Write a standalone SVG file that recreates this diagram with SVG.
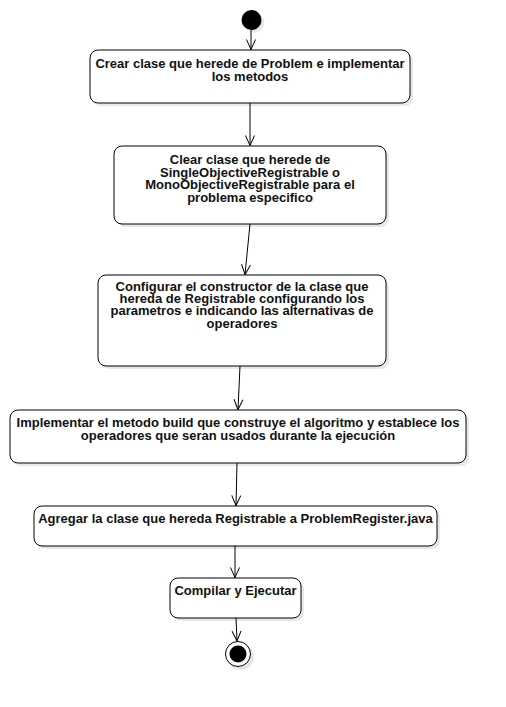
<svg xmlns="http://www.w3.org/2000/svg" width="506" height="707" viewBox="0 0 506 707">
<style>
.box{fill:#fff;stroke:#000;stroke-width:1}
.sh{fill:#000;opacity:0.09}
.lbl{font-family:"Liberation Sans",Arial,sans-serif;font-size:13px;font-weight:bold;fill:#111;text-anchor:middle}
.edge{fill:none;stroke:#000;stroke-width:1}
</style>
<defs>
<marker id="arr" markerUnits="userSpaceOnUse" viewBox="-11 -6 12 12" refX="0" refY="0" markerWidth="12" markerHeight="12" orient="auto">
<path d="M-10,-4.5 L0,0 L-10,4.5" fill="none" stroke="#000" stroke-width="1"/>
</marker>
</defs>
<rect width="506" height="707" fill="#fff"/>
<g id="start">
<circle class="sh" cx="254.5" cy="22.5" r="10"/>
<circle cx="251.5" cy="20" r="10" fill="#000"/>
</g>
<g id="n1">
<rect class="sh" x="93" y="53" width="320" height="53" rx="8"/>
<rect class="box" x="90" y="50" width="320" height="53" rx="8"/>
<text class="lbl" x="250" y="68">Crear clase que herede de Problem e implementar</text>
<text class="lbl" x="250" y="80.5">los metodos</text>
</g>
<g id="n2">
<rect class="sh" x="117" y="149" width="272" height="78" rx="8"/>
<rect class="box" x="114" y="146" width="272" height="78" rx="8"/>
<text class="lbl" x="250" y="164">Clear clase que herede de</text>
<text class="lbl" x="250" y="176.5">SingleObjectiveRegistrable o</text>
<text class="lbl" x="250" y="189">MonoObjectiveRegistrable para el</text>
<text class="lbl" x="250" y="201.5">problema especifico</text>
</g>
<g id="n3">
<rect class="sh" x="101" y="278" width="288" height="91" rx="8"/>
<rect class="box" x="98" y="275" width="288" height="91" rx="8"/>
<text class="lbl" x="242" y="291">Configurar el constructor de la clase que</text>
<text class="lbl" x="242" y="303.2">hereda de Registrable configurando los</text>
<text class="lbl" x="242" y="315.4">parametros e indicando las alternativas de</text>
<text class="lbl" x="242" y="327.6">operadores</text>
</g>
<g id="n4">
<rect class="sh" x="13" y="413" width="456" height="53" rx="8"/>
<rect class="box" x="10" y="410" width="456" height="53" rx="8"/>
<text class="lbl" x="238" y="427">Implementar el metodo build que construye el algoritmo y establece los</text>
<text class="lbl" x="238" y="439.5">operadores que seran usados durante la ejecución</text>
</g>
<g id="n5">
<rect class="sh" x="37" y="509" width="403" height="40" rx="8"/>
<rect class="box" x="34" y="506" width="403" height="40" rx="8"/>
<text class="lbl" x="235.5" y="523">Agregar la clase que hereda Registrable a ProblemRegister.java</text>
</g>
<g id="n6">
<rect class="sh" x="173" y="581" width="131" height="40" rx="8"/>
<rect class="box" x="170" y="578" width="131" height="40" rx="8"/>
<text class="lbl" x="235.5" y="595">Compilar y Ejecutar</text>
</g>
<g id="end">
<circle class="sh" cx="241" cy="657" r="13"/>
<circle cx="238" cy="654" r="12.5" fill="#fff" stroke="#000" stroke-width="1"/>
<circle cx="238" cy="654" r="8.5" fill="#000"/>
</g>
<g id="connectors">
<line class="edge" x1="251" y1="30" x2="251" y2="49.5" marker-end="url(#arr)"/>
<line class="edge" x1="250" y1="103" x2="250" y2="145.5" marker-end="url(#arr)"/>
<line class="edge" x1="250" y1="224" x2="245" y2="274.5" marker-end="url(#arr)"/>
<line class="edge" x1="240" y1="366" x2="238" y2="409.5" marker-end="url(#arr)"/>
<line class="edge" x1="237" y1="463" x2="236" y2="505.5" marker-end="url(#arr)"/>
<line class="edge" x1="235" y1="546" x2="235" y2="577.5" marker-end="url(#arr)"/>
<line class="edge" x1="236" y1="618" x2="237" y2="641" marker-end="url(#arr)"/>
</g>
</svg>
